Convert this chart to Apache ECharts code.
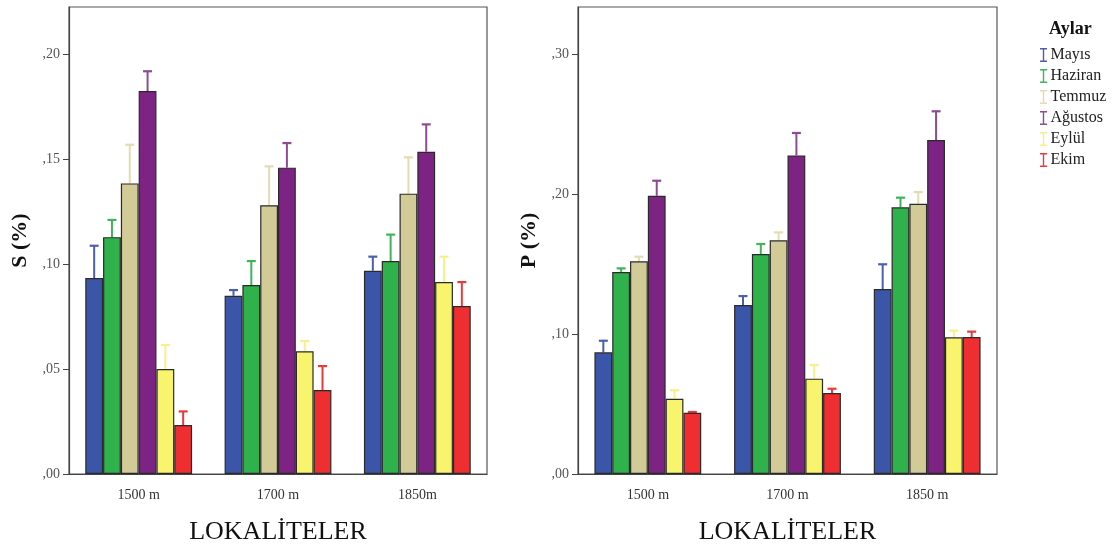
<!DOCTYPE html>
<html><head><meta charset="utf-8">
<script src="https://cdn.jsdelivr.net/npm/echarts@6/dist/echarts.min.js"></script>
<style>html,body{margin:0;padding:0;background:#fff}#c{width:1120px;height:545px}</style>
</head><body><div id="c"></div>
<script>
// ---- data ----
var categories = ['1500 m', '1700 m', '1850m'];
var categoriesP = ['1500 m', '1700 m', '1850 m'];
var months = ['Mayıs', 'Haziran', 'Temmuz', 'Ağustos', 'Eylül', 'Ekim'];

// S (%) means and upper error limits
var S_Mayis   = [0.0933, 0.0849, 0.0968];
var S_Haziran = [0.1128, 0.0900, 0.1014];
var S_Temmuz  = [0.1384, 0.1280, 0.1335];
var S_Agustos = [0.1824, 0.1459, 0.1535];
var S_Eylul   = [0.0500, 0.0584, 0.0914];
var S_Ekim    = [0.0233, 0.0400, 0.0800];
var S_Mayis_hi   = [0.1087, 0.0876, 0.1035];
var S_Haziran_hi = [0.1210, 0.1014, 0.1140];
var S_Temmuz_hi  = [0.1568, 0.1465, 0.1508];
var S_Agustos_hi = [0.1918, 0.1576, 0.1665];
var S_Eylul_hi   = [0.0614, 0.0633, 0.1035];
var S_Ekim_hi    = [0.0298, 0.0514, 0.0914];

// P (%) means and upper error limits
var P_Mayis   = [0.0869, 0.1207, 0.1321];
var P_Haziran = [0.1443, 0.1571, 0.1905];
var P_Temmuz  = [0.1519, 0.1669, 0.1931];
var P_Agustos = [0.1988, 0.2276, 0.2386];
var P_Eylul   = [0.0538, 0.0681, 0.0976];
var P_Ekim    = [0.0438, 0.0579, 0.0979];
var P_Mayis_hi   = [0.0952, 0.1271, 0.1498];
var P_Haziran_hi = [0.1469, 0.1643, 0.1974];
var P_Temmuz_hi  = [0.1552, 0.1726, 0.2014];
var P_Agustos_hi = [0.2095, 0.2436, 0.2591];
var P_Eylul_hi   = [0.0598, 0.0779, 0.1024];
var P_Ekim_hi    = [0.0443, 0.0609, 0.1017];

var S_ticks = [',00', ',05', ',10', ',15', ',20'];
var P_ticks = [',00', ',10', ',20', ',30'];

// ---- style ----
var colors = ['#3b55a8', '#2fb14b', '#d3cb97', '#7d2383', '#f9f46d', '#ee2e30'];
var errColors = ['#4c5fae', '#3fb55a', '#e2dcb0', '#8e4a94', '#f7f08a', '#ea3a3c'];
var serif = '"Liberation Serif", "DejaVu Serif", serif';
var BAR_W = 17.8;

var S_vals = [S_Mayis, S_Haziran, S_Temmuz, S_Agustos, S_Eylul, S_Ekim];
var S_his = [S_Mayis_hi, S_Haziran_hi, S_Temmuz_hi, S_Agustos_hi, S_Eylul_hi, S_Ekim_hi];
var P_vals = [P_Mayis, P_Haziran, P_Temmuz, P_Agustos, P_Eylul, P_Ekim];
var P_his = [P_Mayis_hi, P_Haziran_hi, P_Temmuz_hi, P_Agustos_hi, P_Eylul_hi, P_Ekim_hi];

function errData(vals, his) {
  var out = [];
  for (var m = 0; m < vals.length; m++)
    for (var c = 0; c < vals[m].length; c++)
      out.push([c, m, vals[m][c], his[m][c]]);
  return out;
}
function renderErr(params, api) {
  var c = api.value(0), m = api.value(1);
  var p0 = api.coord([c, api.value(2)]);
  var p1 = api.coord([c, api.value(3)]);
  var x = p0[0] + (m - 2.5) * BAR_W;
  var col = errColors[m];
  return {
    type: 'group',
    children: [
      {type: 'line', shape: {x1: x, y1: p0[1], x2: x, y2: p1[1]}, style: {stroke: col, lineWidth: 2}},
      {type: 'line', shape: {x1: x - 4.5, y1: p1[1], x2: x + 4.5, y2: p1[1]}, style: {stroke: col, lineWidth: 2.2}}
    ]
  };
}

var series = [];
function addBars(vals, gi) {
  for (var m = 0; m < months.length; m++) {
    series.push({
      type: 'bar', name: months[m], xAxisIndex: gi, yAxisIndex: gi,
      data: vals[m], barWidth: BAR_W, barGap: '0%',
      itemStyle: {color: colors[m], borderColor: '#2a2a2a', borderWidth: 1.2},
      emphasis: {disabled: true}, animation: false
    });
  }
}
addBars(S_vals, 0);
addBars(P_vals, 1);
series.push({type: 'custom', xAxisIndex: 0, yAxisIndex: 0, renderItem: renderErr, data: errData(S_vals, S_his), z: 1, animation: false, silent: true});
series.push({type: 'custom', xAxisIndex: 1, yAxisIndex: 1, renderItem: renderErr, data: errData(P_vals, P_his), z: 1, animation: false, silent: true});

function xAx(gi, cats) {
  return {
    type: 'category', gridIndex: gi, data: cats,
    axisLine: {lineStyle: {color: '#444', width: 1.2}},
    axisTick: {alignWithLabel: true, length: 6, lineStyle: {color: '#444'}},
    axisLabel: {fontFamily: serif, fontSize: 14, color: '#333', margin: 14},
    name: 'LOKALİTELER', nameLocation: 'middle', nameGap: 45,
    nameTextStyle: {fontFamily: serif, fontSize: 26, color: '#111'}
  };
}
function yAx(gi, max, interval, ticks, name, gap) {
  return {
    type: 'value', gridIndex: gi, min: 0, max: max, interval: interval,
    splitLine: {show: false},
    axisLine: {show: true, lineStyle: {color: '#444', width: 1.2}},
    axisTick: {show: true, length: 6, lineStyle: {color: '#444'}},
    axisLabel: {fontFamily: serif, fontSize: 14, color: '#555', margin: 9, showMaxLabel: false,
      formatter: function (v) { var t = ticks[Math.round(v / interval)]; return t === undefined ? '' : t; }},
    name: name, nameLocation: 'middle', nameGap: gap,
    nameTextStyle: {fontFamily: serif, fontSize: 22, fontWeight: 'bold', color: '#111'}
  };
}

var chart = echarts.init(document.getElementById('c'), null, {renderer: 'canvas'});
chart.setOption({
  animation: false,
  backgroundColor: '#fff',
  title: {text: 'Aylar', left: 1044, top: 15,
    textStyle: {fontFamily: serif, fontSize: 18, fontWeight: 'bold', color: '#111'}},
  legend: {
    orient: 'vertical', left: 1035, top: 42, itemGap: 5,
    itemWidth: 8, itemHeight: 14,
    icon: 'path://M0,0 H10 V2 H6 V18 H10 V20 H0 V18 H4 V2 H0 Z',
    data: months.map(function (m, i) { return {name: m, itemStyle: {color: errColors[i], borderWidth: 0}}; }),
    textStyle: {fontFamily: serif, fontSize: 16, color: '#222', padding: [0, 0, 0, -2]},
    selectedMode: false
  },
  grid: [
    {left: 69, top: 7, width: 418, height: 467, outerBoundsMode: 'none', containLabel: false, show: true, borderColor: '#555', borderWidth: 1.2, backgroundColor: 'transparent'},
    {left: 578, top: 7, width: 419, height: 467, outerBoundsMode: 'none', containLabel: false, show: true, borderColor: '#555', borderWidth: 1.2, backgroundColor: 'transparent'}
  ],
  xAxis: [xAx(0, categories), xAx(1, categoriesP)],
  yAxis: [
    yAx(0, 0.2224, 0.05, S_ticks, 'S (%)', 38),
    yAx(1, 0.3336, 0.1, P_ticks, 'P (%)', 38)
  ],
  series: series
});
</script></body></html>
